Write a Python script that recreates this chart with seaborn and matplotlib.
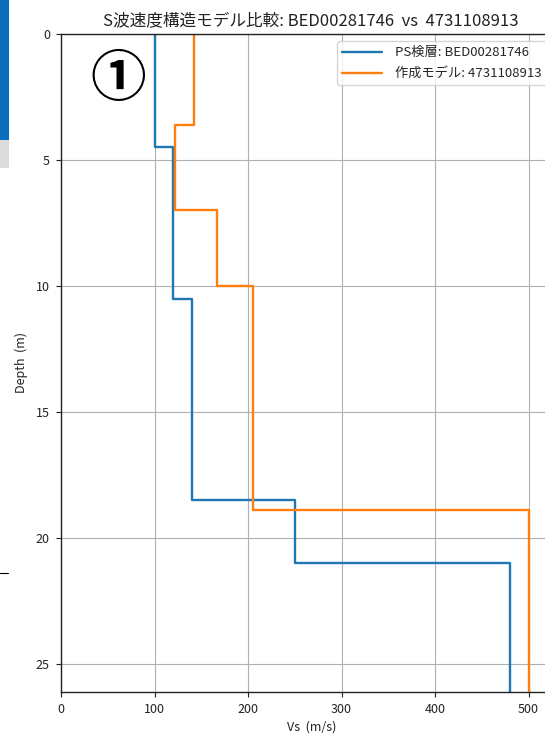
import numpy as np
import pandas as pd
import matplotlib
matplotlib.use("Agg")
import matplotlib.pyplot as plt
import seaborn as sns
from matplotlib.patches import Rectangle
from matplotlib.lines import Line2D

# PS logging profile (layer boundaries in m, Vs in m/s)
ps_label = "PS検層: BED00281746"
ps_bounds = [0.0, 4.5, 10.5, 18.5, 21.0, 26.1]
ps_vs = [100, 120, 140, 250, 480]

# Generated model profile
model_label = "作成モデル: 4731108913"
model_bounds = [0.0, 3.6, 7.0, 10.0, 18.9, 26.1]
model_vs = [142, 122, 167, 205, 500]

title = "S波速度構造モデル比較: BED00281746  vs  4731108913"
x_ticks = [0, 100, 200, 300, 400, 500]
y_ticks = [0, 5, 10, 15, 20, 25]


def step_frame(bounds, vs, name):
    rows = []
    for i, v in enumerate(vs):
        rows.append({"Vs": v, "Depth": bounds[i], "model": name})
        rows.append({"Vs": v, "Depth": bounds[i + 1], "model": name})
    return rows


df = pd.DataFrame(step_frame(ps_bounds, ps_vs, ps_label)
                  + step_frame(model_bounds, model_vs, model_label))

sns.set_theme(style="whitegrid")
plt.rcParams["font.family"] = ["Noto Sans CJK JP", "DejaVu Sans"]
plt.rcParams["axes.unicode_minus"] = False

fig = plt.figure(figsize=(5.45, 7.34), dpi=100)
# axes run slightly past the right edge of the canvas
ax = fig.add_axes([0.112, 0.0572, 0.918, 0.8965])

sns.lineplot(data=df, x="Vs", y="Depth", hue="model", sort=False,
             estimator=None, palette=["#1f77b4", "#ff7f0e"], linewidth=1.7,
             ax=ax)

ax.set_xlim(0, 535)
ax.set_ylim(26.1, 0)
ax.set_xticks(x_ticks)
ax.set_yticks(y_ticks)
ax.grid(True, color="#b0b0b0", linewidth=0.8)
for s in ax.spines.values():
    s.set_color("#222222")
    s.set_linewidth(1.0)
ax.tick_params(axis="both", which="both", direction="out", length=3.5,
               width=0.8, color="#222222", labelsize=9, labelcolor="#222222",
               bottom=True, left=True, pad=4.5)
ax.set_xlabel("Vs  (m/s)", fontsize=9, color="#222222", labelpad=3)
ax.set_ylabel("Depth  (m)", fontsize=9, color="#222222", labelpad=6)
ax.set_title(title, fontsize=12, color="#222222", pad=6)

leg = ax.legend(loc="upper right", fontsize=9.5, frameon=True, fancybox=True,
                framealpha=0.8, edgecolor="#cccccc", borderaxespad=0,
                handlelength=3.0, handletextpad=1.0, labelspacing=0.6,
                bbox_to_anchor=(547 / 545, 1 - 41 / 734),
                bbox_transform=fig.transFigure)
leg.set_title(None)

# marker annotation and side decorations
fig.text(118 / 545, 1 - 80 / 734, "①", fontsize=40, fontweight="bold",
         color="black", ha="center", va="center")
fig.add_artist(Rectangle((0, 1 - 140 / 734), 9 / 545, 140 / 734,
                         transform=fig.transFigure, color="#0a6ebd", lw=0))
fig.add_artist(Rectangle((0, 1 - 168 / 734), 9 / 545, 28 / 734,
                         transform=fig.transFigure, color="#dcdcdc", lw=0))
fig.add_artist(Line2D([0, 8 / 545], [1 - 573 / 734, 1 - 573 / 734],
                      transform=fig.transFigure, color="black", lw=0.8))

fig.savefig("out.png", dpi=100)
